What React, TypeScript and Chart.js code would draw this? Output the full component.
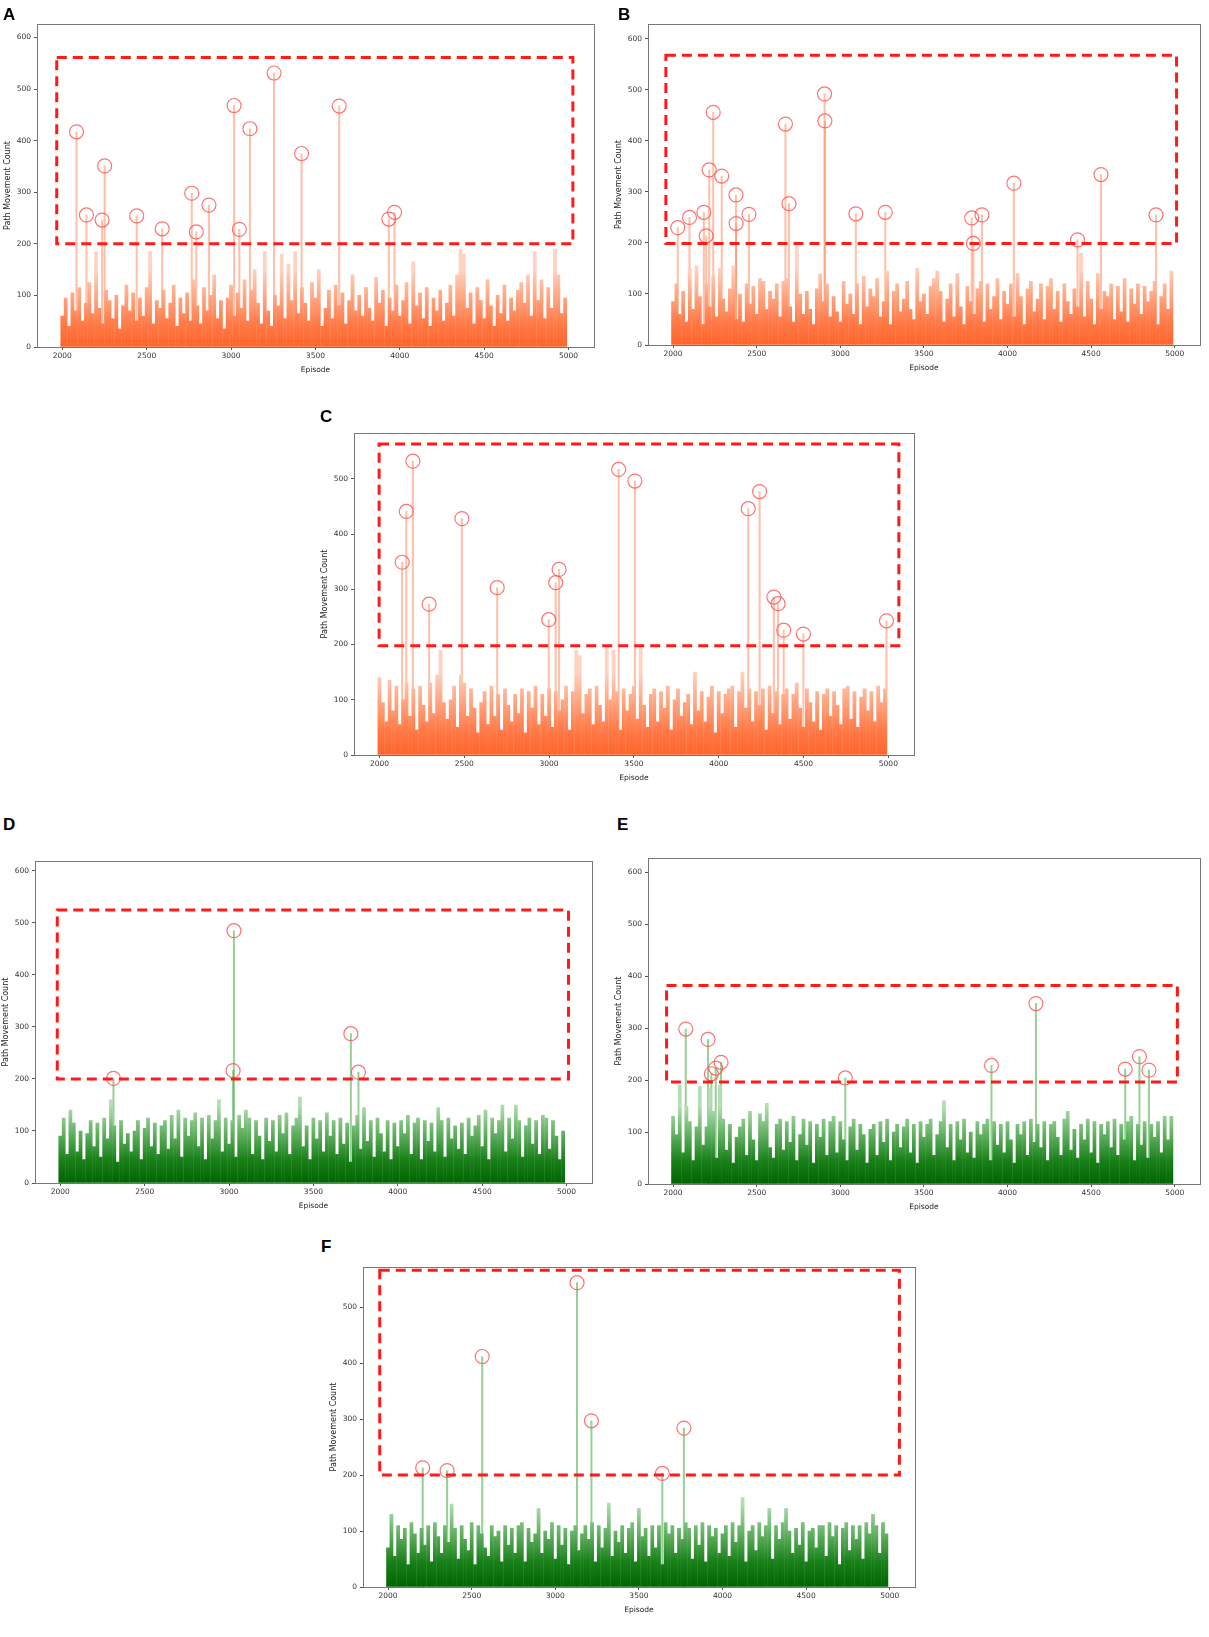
import { useEffect, useRef } from 'react';
import Chart from 'chart.js/auto';

// episode grid for the dense background bars (one bar every 20 episodes)
const bgEpisodes = Array.from({ length: 150 }, (_, i) => 2000 + 20 * i);

const xTicks = [2000, 2500, 3000, 3500, 4000, 4500, 5000];
const yTicksTall = [0, 100, 200, 300, 400, 500, 600];
const yTicksShort = [0, 100, 200, 300, 400, 500];

// ---- panel A
const aBackground = [
  60, 95, 40, 105, 70, 115, 50, 85, 125, 65,
  185, 75, 45, 110, 90, 55, 100, 35, 80, 120,
  70, 105, 50, 95, 60, 115, 185, 45, 90, 75,
  110, 55, 85, 120, 40, 95, 65, 105, 50, 130,
  80, 45, 115, 70, 100, 140, 55, 90, 35, 95,
  120, 60, 105, 75, 130, 50, 110, 150, 85, 45,
  185, 70, 40, 100, 80, 180, 55, 160, 90, 185,
  65, 115, 85, 50, 125, 95, 150, 40, 75, 110,
  55, 120, 80, 105, 45, 90, 140, 70, 100, 60,
  115, 75, 50, 135, 85, 110, 40, 95, 70, 120,
  60, 90, 125, 45, 165, 80, 105, 55, 115, 40,
  95, 70, 110, 50, 85, 120, 60, 140, 190, 180,
  75, 105, 45, 115, 90, 55, 130, 80, 40, 100,
  65, 120, 50, 95, 70, 110, 125, 85, 140, 60,
  185, 90, 130, 55, 115, 75, 190, 140, 65, 95,
];
const aPeakEpisodes = [2084, 2143, 2236, 2251, 2441, 2592, 2767, 2794, 2869, 3018, 3049, 3112, 3255, 3418, 3641, 3935, 3969];
const aPeakCounts = [417, 256, 246, 351, 254, 229, 298, 223, 275, 468, 228, 423, 531, 375, 467, 248, 261];
const aBox = [1967, 5026, 200, 561];

// ---- panel B
const bBackground = [
  85, 120, 60, 105, 45, 150, 70, 155, 95, 40,
  120, 75, 135, 55, 150, 90, 65, 110, 155, 50,
  100, 45, 120, 80, 115, 60, 130, 125, 70, 105,
  90, 120, 55, 125, 130, 75, 45, 195, 100, 60,
  105, 70, 40, 110, 140, 85, 120, 55, 95, 65,
  45, 125, 80, 100, 60, 120, 40, 135, 75, 110,
  95, 130, 55, 85, 145, 40, 105, 120, 65, 90,
  125, 70, 50, 150, 85, 100, 60, 115, 130, 145,
  105, 45, 90, 120, 55, 140, 75, 40, 115, 85,
  60, 110, 125, 45, 120, 70, 95, 130, 50, 105,
  80, 120, 55, 140, 95, 40, 110, 125, 65, 90,
  120, 50, 115, 130, 70, 105, 45, 120, 85, 60,
  110, 75, 180, 55, 125, 90, 40, 140, 70, 105,
  95, 120, 50, 115, 65, 130, 45, 110, 80, 120,
  60, 115, 85, 105, 125, 40, 95, 120, 70, 145,
];
const bPeakEpisodes = [2028, 2098, 2184, 2198, 2216, 2240, 2291, 2376, 2377, 2454, 2672, 2693, 2906, 2908, 3093, 3269, 3786, 3796, 3847, 4038, 4419, 4559, 4888];
const bPeakCounts = [230, 250, 260, 214, 343, 456, 331, 294, 238, 256, 433, 277, 492, 439, 257, 260, 249, 199, 255, 317, 206, 334, 255];
const bBox = [1957, 5011, 199, 568];

// ---- panel C
const cBackground = [
  140, 95, 60, 135, 80, 125, 55, 100, 130, 70,
  120, 45, 125, 90, 60, 130, 75, 145, 190, 95,
  65, 100, 125, 50, 145, 130, 70, 120, 85, 40,
  95, 115, 55, 125, 70, 110, 45, 120, 90, 60,
  110, 75, 120, 40, 115, 85, 125, 55, 110, 70,
  120, 50, 115, 80, 100, 125, 45, 115, 190, 180,
  75, 110, 120, 55, 125, 90, 60, 195, 100, 190,
  115, 45, 120, 80, 110, 125, 65, 195, 90, 50,
  110, 120, 60, 115, 85, 125, 45, 100, 120, 70,
  95, 110, 55, 150, 80, 115, 60, 105, 125, 40,
  115, 75, 110, 120, 125, 50, 115, 150, 85, 120,
  60, 115, 90, 120, 45, 125, 75, 115, 55, 110,
  120, 65, 110, 130, 85, 50, 120, 95, 60, 115,
  45, 110, 120, 70, 115, 90, 55, 120, 125, 65,
  115, 50, 105, 120, 80, 115, 60, 125, 95, 120,
];
const cPeakEpisodes = [2134, 2158, 2197, 2293, 2486, 2694, 2998, 3039, 3059, 3410, 3506, 4174, 4241, 4325, 4350, 4383, 4499, 4989];
const cPeakCounts = [349, 441, 532, 273, 428, 303, 245, 312, 336, 517, 496, 446, 477, 286, 274, 226, 219, 243];
const cBox = [1998, 5062, 198, 563];

// ---- panel D
const dBackground = [
  90, 125, 55, 140, 115, 60, 100, 45, 95, 120,
  70, 115, 50, 125, 85, 160, 110, 40, 120, 75,
  95, 60, 100, 120, 45, 105, 125, 70, 115, 55,
  110, 120, 65, 130, 85, 140, 50, 125, 90, 120,
  135, 70, 125, 45, 130, 85, 120, 160, 60, 125,
  75, 120, 50, 130, 105, 140, 125, 55, 120, 90,
  45, 125, 80, 120, 60, 130, 95, 135, 55, 110,
  125, 165, 70, 110, 45, 125, 85, 120, 60, 135,
  90, 120, 55, 125, 75, 115, 40, 110, 130, 65,
  145, 80, 120, 50, 125, 95, 60, 120, 45, 115,
  70, 120, 95, 130, 55, 115, 125, 45, 120, 80,
  115, 60, 145, 120, 50, 125, 85, 110, 65, 115,
  55, 125, 90, 110, 130, 70, 140, 45, 125, 95,
  120, 150, 60, 125, 85, 150, 120, 50, 110, 125,
  75, 120, 55, 130, 125, 65, 120, 90, 45, 100,
];
const dPeakEpisodes = [2315, 3024, 3029, 3722, 3767];
const dPeakCounts = [201, 216, 485, 287, 213];
const dBox = [1982, 5012, 200, 525];

// ---- panel E
const eBackground = [
  130, 95, 190, 60, 150, 120, 45, 110, 188, 75,
  110, 185, 140, 50, 190, 125, 65, 115, 40, 90,
  110, 125, 55, 140, 85, 45, 135, 120, 155, 70,
  50, 115, 125, 65, 120, 80, 130, 45, 95, 125,
  75, 120, 40, 115, 90, 125, 55, 120, 130, 60,
  120, 85, 45, 110, 125, 65, 115, 95, 40, 105,
  115, 55, 120, 80, 125, 45, 100, 115, 70, 110,
  125, 60, 115, 40, 120, 90, 115, 125, 55, 95,
  120, 160, 70, 115, 45, 120, 85, 125, 60, 100,
  50, 120, 95, 115, 125, 45, 120, 75, 115, 60,
  120, 85, 40, 115, 95, 120, 55, 125, 80, 115,
  70, 120, 45, 115, 120, 90, 55, 125, 140, 65,
  105, 50, 115, 85, 125, 60, 120, 40, 115, 95,
  120, 70, 125, 55, 115, 85, 120, 130, 45, 115,
  75, 120, 50, 115, 90, 120, 60, 130, 85, 130,
];
const ePeakEpisodes = [2076, 2209, 2229, 2255, 2287, 3030, 3904, 4170, 4704, 4789, 4846];
const ePeakCounts = [298, 278, 212, 223, 234, 204, 228, 347, 221, 245, 219];
const eBox = [1961, 5016, 196, 382];

// ---- panel F
const fBackground = [
  70, 130, 55, 110, 85, 105, 40, 115, 95, 60,
  105, 75, 110, 45, 115, 90, 60, 110, 80, 148,
  105, 50, 110, 85, 65, 115, 40, 110, 95, 70,
  55, 110, 90, 100, 45, 110, 75, 105, 60, 110,
  115, 45, 105, 80, 95, 140, 60, 100, 85, 115,
  50, 110, 75, 105, 40, 100, 110, 65, 95, 110,
  85, 115, 45, 110, 70, 105, 150, 55, 100, 80,
  110, 60, 105, 115, 45, 140, 90, 105, 55, 110,
  70, 110, 40, 115, 95, 110, 60, 105, 85, 115,
  105, 50, 110, 75, 115, 45, 110, 90, 105, 60,
  95, 110, 55, 115, 80, 110, 160, 45, 100, 110,
  65, 115, 90, 110, 140, 50, 110, 85, 115, 140,
  100, 60, 105, 75, 115, 45, 100, 105, 70, 110,
  110, 55, 115, 90, 110, 40, 105, 115, 65, 110,
  85, 110, 50, 115, 95, 130, 110, 60, 115, 95,
];
const fPeakEpisodes = [2207, 2353, 2563, 3130, 3216, 3640, 3769];
const fPeakCounts = [213, 208, 412, 544, 297, 203, 284];
const fBox = [1950, 5058, 200, 566];

type Frame = { left: number; top: number; right: number; bottom: number };

type PanelProps = {
  background: number[];
  peakEpisodes: number[];
  peakCounts: number[];
  box: number[];
  yMax: number;
  yTicks: number[];
  green?: boolean;
  frame: Frame;
};

const AXIS_W = 37;
const AXIS_H = 32;
const PAD_TOP = 10;
const PAD_RIGHT = 4;

const tickFont = { family: 'DejaVu Sans', size: 7.5 };

const Panel = ({ background, peakEpisodes, peakCounts, box, yMax, yTicks, green, frame }: PanelProps) => {
  const ref = useRef<HTMLCanvasElement | null>(null);
  const width = frame.right - frame.left + AXIS_W + PAD_RIGHT;
  const height = frame.bottom - frame.top + PAD_TOP + AXIS_H;

  useEffect(() => {
    if (!ref.current) return;
    const stops = green
      ? ['rgb(0,100,0)', 'rgb(25,128,25)', 'rgb(100,178,100)', 'rgb(180,222,180)']
      : ['rgb(255,100,42)', 'rgb(255,122,72)', 'rgb(255,166,130)', 'rgb(255,210,193)'];
    const peakColor = green ? 'rgba(70,170,70,0.55)' : 'rgba(255,140,100,0.55)';
    let gradient: CanvasGradient | null = null;

    const chart = new Chart(ref.current, {
      type: 'bar',
      data: {
        datasets: [
          {
            type: 'scatter',
            data: peakEpisodes.map((x, i) => ({ x, y: peakCounts[i] })),
            pointStyle: 'circle',
            pointRadius: 7,
            borderColor: 'rgba(255,80,80,0.8)',
            backgroundColor: 'rgba(0,0,0,0)',
            borderWidth: 1.2,
            order: 0,
          } as any,
          {
            type: 'bar',
            data: bgEpisodes.map((x, i) => ({ x, y: background[i] })),
            barThickness: 3.1,
            grouped: false,
            backgroundColor: (ctx: any) => {
              const c = ctx.chart;
              if (!c.chartArea) return stops[1];
              if (!gradient) {
                const ys = c.scales.y;
                gradient = c.ctx.createLinearGradient(0, ys.getPixelForValue(0), 0, ys.getPixelForValue(150));
                gradient!.addColorStop(0, stops[0]);
                gradient!.addColorStop(0.3, stops[1]);
                gradient!.addColorStop(0.65, stops[2]);
                gradient!.addColorStop(1, stops[3]);
              }
              return gradient;
            },
            order: 1,
          } as any,
          {
            type: 'bar',
            data: peakEpisodes.map((x, i) => ({ x, y: peakCounts[i] })),
            barThickness: 1.4,
            grouped: false,
            backgroundColor: peakColor,
            order: 2,
          } as any,
        ],
      },
      options: {
        animation: false,
        responsive: false,
        events: [],
        layout: { padding: { top: PAD_TOP, right: PAD_RIGHT, left: 0, bottom: 0 } },
        plugins: {
          legend: { display: false },
          tooltip: { enabled: false },
        },
        scales: {
          x: {
            type: 'linear',
            min: 1850,
            max: 5150,
            offset: false,
            afterBuildTicks: (s: any) => {
              s.ticks = xTicks.map((value) => ({ value }));
            },
            afterFit: (s: any) => {
              s.height = AXIS_H;
            },
            grid: { display: true, drawOnChartArea: false, drawTicks: true, tickLength: 3, tickColor: '#555', offset: false },
            border: { display: false },
            ticks: { font: tickFont, color: '#333', padding: 2, maxRotation: 0, autoSkip: false, callback: (v: any) => String(v) },
            title: { display: true, text: 'Episode', font: tickFont, color: '#222', padding: { top: 0, bottom: 4.5 } },
          },
          y: {
            type: 'linear',
            min: 0,
            max: yMax,
            afterBuildTicks: (s: any) => {
              s.ticks = yTicks.map((value) => ({ value }));
            },
            afterFit: (s: any) => {
              s.width = AXIS_W;
            },
            grid: { display: true, drawOnChartArea: false, drawTicks: true, tickLength: 3, tickColor: '#555' },
            border: { display: false },
            ticks: { font: tickFont, color: '#333', padding: 3, autoSkip: false, callback: (v: any) => String(v) },
            title: { display: true, text: 'Path Movement Count', font: { family: 'DejaVu Sans', size: 8 }, color: '#222', padding: { top: 3, bottom: 0 } },
          },
        },
      } as any,
      plugins: [
        {
          id: 'redBox',
          afterDatasetsDraw: (c: any) => {
            const { ctx, scales } = c;
            const x0 = scales.x.getPixelForValue(box[0]);
            const x1 = scales.x.getPixelForValue(box[1]);
            const y0 = scales.y.getPixelForValue(box[2]);
            const y1 = scales.y.getPixelForValue(box[3]);
            ctx.save();
            ctx.strokeStyle = '#ff1a1a';
            ctx.lineWidth = 3;
            ctx.setLineDash([10, 6]);
            ctx.strokeRect(x0, y1, x1 - x0, y0 - y1);
            ctx.restore();
          },
        },
        {
          id: 'frame',
          afterDraw: (c: any) => {
            const { ctx, chartArea: a } = c;
            ctx.save();
            ctx.strokeStyle = '#777';
            ctx.lineWidth = 1;
            ctx.strokeRect(Math.round(a.left) + 0.5, Math.round(a.top) + 0.5, Math.round(a.right - a.left), Math.round(a.bottom - a.top));
            ctx.restore();
          },
        },
      ],
    });

    return () => {
      chart.destroy();
    };
  }, [background, peakEpisodes, peakCounts, box, yMax, yTicks, green]);

  return (
    <canvas
      ref={ref}
      width={width}
      height={height}
      style={{ position: 'absolute', left: frame.left - AXIS_W, top: frame.top - PAD_TOP, width, height }}
    />
  );
};

const labelStyle = {
  position: 'absolute' as const,
  fontFamily: '"Liberation Sans", Arial, sans-serif',
  fontWeight: 700,
  fontSize: 17,
  lineHeight: 1,
  color: '#000',
};

const App = () => {
  return (
    <div style={{ position: 'absolute', left: 0, top: 0, width: 1209, height: 1637, background: '#fff', overflow: 'hidden' }}>
      <Panel background={aBackground} peakEpisodes={aPeakEpisodes} peakCounts={aPeakCounts} box={aBox} yMax={626} yTicks={yTicksTall} frame={{ left: 37, top: 24, right: 598, bottom: 347 }} />
      <Panel background={bBackground} peakEpisodes={bPeakEpisodes} peakCounts={bPeakCounts} box={bBox} yMax={629} yTicks={yTicksTall} frame={{ left: 648, top: 24, right: 1204, bottom: 345 }} />
      <Panel background={cBackground} peakEpisodes={cPeakEpisodes} peakCounts={cPeakCounts} box={cBox} yMax={583} yTicks={yTicksShort} frame={{ left: 354, top: 433, right: 918, bottom: 755 }} />
      <Panel background={dBackground} peakEpisodes={dPeakEpisodes} peakCounts={dPeakCounts} box={dBox} yMax={619} yTicks={yTicksTall} green frame={{ left: 35, top: 861, right: 596, bottom: 1183 }} />
      <Panel background={eBackground} peakEpisodes={ePeakEpisodes} peakCounts={ePeakCounts} box={eBox} yMax={627} yTicks={yTicksTall} green frame={{ left: 648, top: 858, right: 1204, bottom: 1184 }} />
      <Panel background={fBackground} peakEpisodes={fPeakEpisodes} peakCounts={fPeakCounts} box={fBox} yMax={572} yTicks={yTicksShort} green frame={{ left: 363, top: 1267, right: 919, bottom: 1587 }} />
      <div style={{ ...labelStyle, left: 3, top: 6 }}>A</div>
      <div style={{ ...labelStyle, left: 618, top: 6 }}>B</div>
      <div style={{ ...labelStyle, left: 320, top: 408 }}>C</div>
      <div style={{ ...labelStyle, left: 3, top: 816 }}>D</div>
      <div style={{ ...labelStyle, left: 617, top: 816 }}>E</div>
      <div style={{ ...labelStyle, left: 321, top: 1238 }}>F</div>
    </div>
  );
};

export default App;
